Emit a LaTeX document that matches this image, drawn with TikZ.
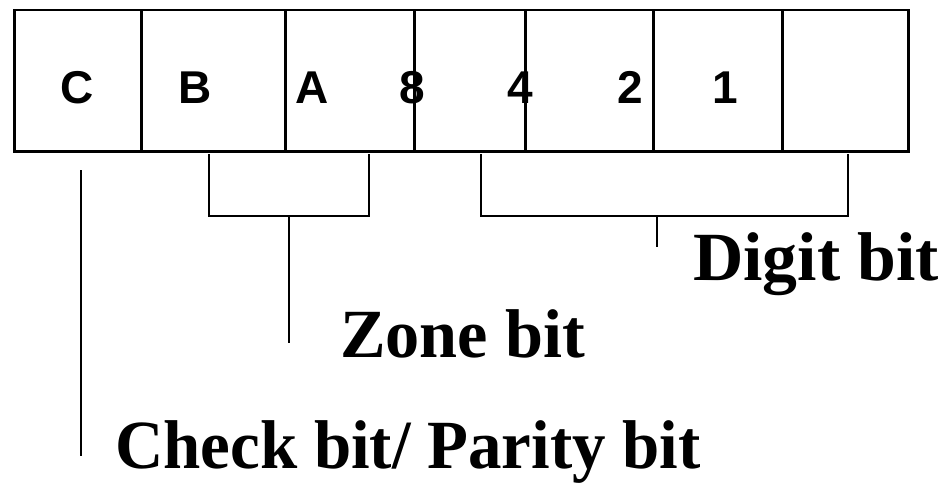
\documentclass[tikz,border=0pt]{standalone}
\usepackage{fontspec}
\usepackage{graphicx}
\setmainfont{Liberation Serif}
\setsansfont{Liberation Sans}
\begin{document}
\begin{tikzpicture}[x=1pt,y=-1pt,
  cell/.style={draw,line width=2.5pt,minimum height=141pt,inner sep=0pt,anchor=north west},
  bitlbl/.style={font=\sffamily\bfseries\fontsize{46}{50}\selectfont,anchor=base,inner sep=0pt},
  bracketline/.style={line width=2.2pt},
  stem/.style={line width=2pt},
  caption/.style={font=\bfseries\fontsize{69}{75}\selectfont,anchor=base west,inner sep=0pt}]
\useasboundingbox (0,0) rectangle (944,484);
% register cells
\node[cell,minimum width=127pt] (c1) at (13,9) {};
\node[cell,minimum width=144pt] (c2) at (140,9) {};
\node[cell,minimum width=129pt] (c3) at (284,9) {};
\node[cell,minimum width=111pt] (c4) at (413,9) {};
\node[cell,minimum width=128pt] (c5) at (524,9) {};
\node[cell,minimum width=129pt] (c6) at (652,9) {};
\node[cell,minimum width=126pt] (c7) at (781,9) {};
% bit labels
\node[bitlbl] (lC) at (77,103) {C};
\node[bitlbl] (lB) at (195,103) {B};
\node[bitlbl] (lA) at (312,103) {A};
\node[bitlbl] (l8) at (412,103) {8};
\node[bitlbl] (l4) at (520,103) {4};
\node[bitlbl] (l2) at (630,103) {2};
\node[bitlbl] (l1) at (725,103) {1};
% bracket coordinates
\coordinate (zl) at (209,154);
\coordinate (zr) at (369,154);
\coordinate (zs) at (289,216);
\coordinate (ze) at (289,343);
\coordinate (dl) at (481,154);
\coordinate (dr) at (848,154);
\coordinate (ds) at (657,216);
\coordinate (de) at (657,247);
\coordinate (cs) at (81,170);
\coordinate (ce) at (81,456);
% brackets
\draw[bracketline] (zl) -- (zl |- zs) -- (zr |- zs) -- (zr);
\draw[stem] (zs) -- (ze);
\draw[bracketline] (dl) -- (dl |- ds) -- (dr |- ds) -- (dr);
\draw[stem] (ds) -- (de);
\draw[stem] (cs) -- (ce);
% captions
\node[caption] (digit) at (693,280) {\scalebox{1.01}[1]{Digit bit}};
\node[caption] (zone) at (340,357) {\scalebox{0.99}[1]{Zone bit}};
\node[caption] (check) at (115,468) {\scalebox{0.97}[1]{Check bit/ Parity bit}};
\end{tikzpicture}
\end{document}
